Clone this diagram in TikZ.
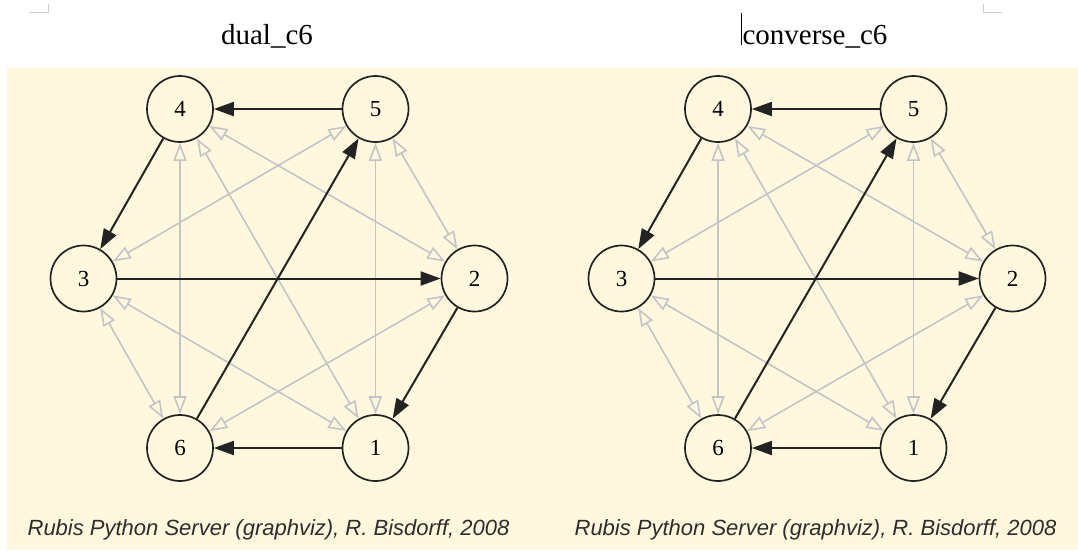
\documentclass[tikz,border=0pt]{standalone}
\usepackage{fontspec}
\setmainfont{Liberation Serif}
\newfontfamily\footfont{Liberation Sans}
\usetikzlibrary{arrows.meta}
\definecolor{bgcream}{RGB}{255,248,222}
\definecolor{edgegray}{RGB}{195,196,200}
\definecolor{inkgray}{RGB}{35,35,35}
\definecolor{footgray}{RGB}{45,45,45}
\definecolor{markgray}{RGB}{205,205,205}
\begin{document}
\begin{tikzpicture}[x=1pt,y=-1pt,
  vertex/.style={circle,draw=inkgray,line width=1.7pt,fill=bgcream,minimum size=66pt,inner sep=0pt,font=\fontsize{23}{23}\selectfont},
  blackarc/.style={draw=inkgray,line width=2pt,-{Triangle[length=20pt,width=14pt]}},
  grayarc/.style={draw=edgegray,line width=1.6pt,{Triangle[open,length=18pt,width=13pt]}-{Triangle[open,length=18pt,width=13pt]}},
  titletext/.style={anchor=base,font=\fontsize{29}{29}\selectfont},
  credit/.style={anchor=base,text=footgray,font=\footfont\itshape\fontsize{22}{22}\selectfont},
  cornermark/.style={draw=markgray,line width=1pt}]
\useasboundingbox (0,0) rectangle (1078,550);
\fill[bgcream] (7,68) rectangle (1078,550);
% corner marks and cursor
\draw[cornermark] (29,12) -- (48,12) -- (48,4);
\draw[cornermark] (1002,12) -- (983,12) -- (983,4);
\draw[line width=1pt,black] (741,13) -- (741,45);
% titles
\node[titletext] (ta) at (267,44) {dual\_c6};
\node[titletext] (tb) at (815,44) {converse\_c6};
% nodes
\foreach \p/\dx in {a/0,b/538}{
  \node[vertex] (\p1) at (375.5+\dx,448) {1};
  \node[vertex] (\p2) at (474.5+\dx,278.5) {2};
  \node[vertex] (\p3) at (83.5+\dx,278.5) {3};
  \node[vertex] (\p4) at (180+\dx,109) {4};
  \node[vertex] (\p5) at (375.5+\dx,109) {5};
  \node[vertex] (\p6) at (180+\dx,448) {6};
}
% edges
\foreach \p in {a,b}{
  \foreach \u/\v in {1/3,1/4,1/5,2/4,2/5,2/6,3/5,3/6,4/6}
    \draw[grayarc] (\p\u) -- (\p\v);
  \foreach \u/\v in {5/4,4/3,3/2,2/1,1/6,6/5}
    \draw[blackarc] (\p\u) -- (\p\v);
}
% credits
\node[credit] (ca) at (268.5,535) {Rubis Python Server (graphviz), R. Bisdorff, 2008};
\node[credit] (cb) at (815.5,535) {Rubis Python Server (graphviz), R. Bisdorff, 2008};
\end{tikzpicture}
\end{document}
